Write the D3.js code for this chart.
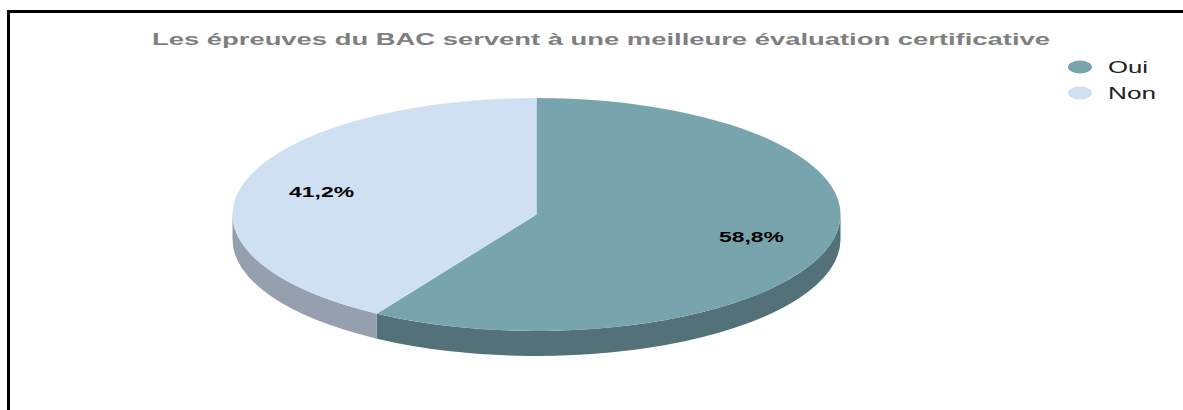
<!DOCTYPE html>
<html>
<head>
<meta charset="utf-8">
<script src="https://cdn.jsdelivr.net/npm/d3@7"></script>
<style>
html,body{margin:0;padding:0;background:#fff;overflow:hidden}
svg{display:block}
text{font-family:"Liberation Sans",Arial,sans-serif}
</style>
</head>
<body>
<svg id="chart" width="1183" height="410"></svg>
<script>
const chartTitle = "Les épreuves du BAC servent à une meilleure évaluation certificative";
const categories = ["Oui", "Non"];
const values = [58.8, 41.2];
const topColors = ["#78a5ad", "#cfe0f2"];
const sideColors = ["#527178", "#959fae"];

const svg = d3.select("#chart");
const cx = 536.5, cy = 214.5, rx = 304, ry = 116.5, depth = 25;
const squash = ry / rx;
const depthScaled = depth / squash;

// Frame around the chart, open on the right and bottom edges
svg.append("path")
  .attr("d", d3.line()([[8.5, 410], [8.5, 11.5], [1183, 11.5]]))
  .attr("fill", "none").attr("stroke", "#000").attr("stroke-width", 3);

svg.append("text")
  .attr("x", 152).attr("y", 44.5)
  .attr("textLength", 898).attr("lengthAdjust", "spacingAndGlyphs")
  .attr("font-size", 16).attr("font-weight", "bold").attr("fill", "#7f7f7f")
  .text(chartTitle);

const pie = d3.pie().sort(null).value(d => d);
const slices = pie(values);

// Disc is drawn as a circle in a vertically squashed group
const disc = svg.append("g").attr("transform", `translate(${cx},${cy}) scale(1,${squash})`);

// d3 pie angles run clockwise from 12 o'clock; canvas-style arcs start at 3 o'clock
const toCanvas = a => a - Math.PI / 2;

function wallPath(a0, a1) {
  const p = d3.path();
  const s = toCanvas(a0), e = toCanvas(a1);
  p.moveTo(rx * Math.cos(s), rx * Math.sin(s));
  p.arc(0, 0, rx, s, e, false);
  p.lineTo(rx * Math.cos(e), rx * Math.sin(e) + depthScaled);
  p.arc(0, depthScaled, rx, e, s, true);
  p.closePath();
  return p.toString();
}

// Only the front half of the rim (90° to 270° clockwise from the top) is visible
slices.forEach((s, i) => {
  const a0 = Math.max(s.startAngle, Math.PI / 2);
  const a1 = Math.min(s.endAngle, 3 * Math.PI / 2);
  if (a1 > a0) {
    disc.append("path").attr("d", wallPath(a0, a1)).attr("fill", sideColors[i]);
  }
});

const arc = d3.arc().innerRadius(0).outerRadius(rx);
disc.selectAll("path.top").data(slices).join("path")
  .attr("class", "top")
  .attr("d", arc)
  .attr("fill", (d, i) => topColors[i]);

// Percentage labels sit at about 3/4 of the radius on each slice's mid angle
const fmt = v => v.toFixed(1).replace(".", ",") + "%";
const labelRadiusX = rx * 0.735, labelRadiusY = ry * 0.72;
svg.selectAll("text.pct").data(slices).join("text")
  .attr("class", "pct")
  .attr("x", d => cx + labelRadiusX * Math.sin((d.startAngle + d.endAngle) / 2))
  .attr("y", d => cy + labelRadiusY * -Math.cos((d.startAngle + d.endAngle) / 2) + 5)
  .attr("text-anchor", "middle")
  .attr("textLength", 65).attr("lengthAdjust", "spacingAndGlyphs")
  .attr("font-size", 14).attr("font-weight", "bold").attr("fill", "#000")
  .text(d => fmt(d.data));

// Legend
const legendY = d3.scalePoint().domain(categories).range([67, 93]);
const legend = svg.selectAll("g.legend").data(categories).join("g")
  .attr("class", "legend")
  .attr("transform", d => `translate(0,${legendY(d)})`);
legend.append("ellipse")
  .attr("cx", 1080).attr("cy", 0).attr("rx", 12).attr("ry", 6.5)
  .attr("fill", (d, i) => topColors[i]);
legend.append("text")
  .attr("x", 1108).attr("y", 5.5)
  .attr("textLength", (d, i) => i === 0 ? 40 : 48).attr("lengthAdjust", "spacingAndGlyphs")
  .attr("font-size", 16).attr("fill", "#222")
  .text(d => d);
</script>
</body>
</html>
